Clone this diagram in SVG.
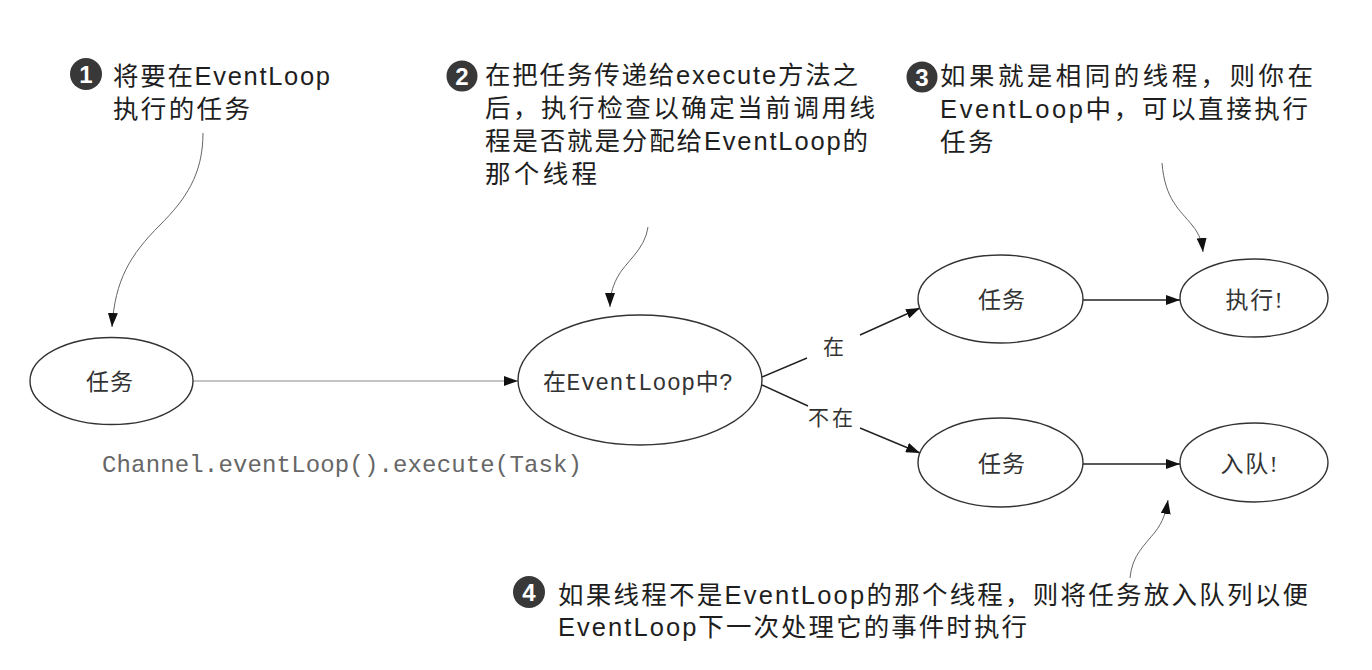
<svg xmlns="http://www.w3.org/2000/svg" width="1372" height="670" viewBox="0 0 1372 670">
<style>
.bg{fill:#ffffff}
.node{fill:#ffffff;stroke:#333333;stroke-width:1.4}
.lbl{font-family:"Liberation Serif","Noto Sans CJK SC",serif;font-size:23px;fill:#333333;text-anchor:middle}
.mono{font-family:"Liberation Mono","Noto Sans CJK SC",monospace}
.edge{fill:none;stroke:#222222;stroke-width:1.4}
.main{fill:none;stroke:#8a8a8a;stroke-width:1.2}
.note{fill:none;stroke:#666666;stroke-width:1}
.elbl{font-family:"Liberation Serif","Noto Sans CJK SC",serif;font-size:21px;fill:#333333}
.ann{font-family:"Liberation Sans","Noto Sans CJK SC",sans-serif;font-size:25.5px;fill:#1e1e1e}
.num{fill:#383838}
.numt{font-family:"Liberation Sans","Noto Sans CJK SC",sans-serif;font-size:24px;font-weight:bold;fill:#ffffff;text-anchor:middle}
.code{font-family:"Liberation Mono",monospace;font-size:24px;fill:#666666}
</style>
<defs>
<marker id="arr" viewBox="0 0 14 10" refX="14" refY="5" markerWidth="14" markerHeight="10" markerUnits="userSpaceOnUse" orient="auto">
<path d="M0,0 L14,5 L0,10 z" fill="#111111"/>
</marker>
</defs>
<rect class="bg" x="0" y="0" width="1372" height="670"/>

<g id="connectors">
<path class="main" d="M193,381 L518,381" marker-end="url(#arr)"/>
<path class="edge" d="M762,377 L807,358"/>
<path class="edge" d="M860,335 L920,308" marker-end="url(#arr)"/>
<path class="edge" d="M762,385 L808,406"/>
<path class="edge" d="M860,428 L920,453" marker-end="url(#arr)"/>
<path class="edge" d="M1083,300 L1180,300" marker-end="url(#arr)"/>
<path class="edge" d="M1083,464 L1180,464" marker-end="url(#arr)"/>
<text class="elbl" x="823" y="354">在</text>
<text class="elbl" x="808" y="425" letter-spacing="3">不在</text>
<path class="note" d="M203,133 C203,175 185,200 160,225 C130,255 115,280 112,327" marker-end="url(#arr)"/>
<path class="note" d="M648,227 C645,250 625,262 617,278 C612,288 610,296 610,307" marker-end="url(#arr)"/>
<path class="note" d="M1162,163 C1165,200 1180,210 1192,225 C1200,235 1202,242 1203,252" marker-end="url(#arr)"/>
<path class="note" d="M1130,578 C1132,555 1145,545 1155,532 C1163,522 1166,512 1168,500" marker-end="url(#arr)"/>
</g>

<g id="node-task">
<ellipse class="node" cx="111.5" cy="381" rx="81.5" ry="43.5"/>
<text class="lbl" x="110" y="390" letter-spacing="1">任务</text>
</g>

<g id="code-label">
<text class="code" x="102" y="472" textLength="480" lengthAdjust="spacing">Channel.eventLoop().execute(Task)</text>
</g>

<g id="node-check">
<ellipse class="node" cx="640" cy="380" rx="122" ry="65"/>
<text class="lbl mono" x="638" y="390" font-size="22" textLength="190" lengthAdjust="spacing">在EventLoop中?</text>
</g>

<g id="node-task-yes">
<ellipse class="node" cx="1000.5" cy="299" rx="82.5" ry="44"/>
<text class="lbl" x="1002" y="308" letter-spacing="1">任务</text>
</g>

<g id="node-execute">
<ellipse class="node" cx="1254" cy="298" rx="74" ry="39"/>
<text class="lbl" x="1254" y="308" textLength="57" lengthAdjust="spacing">执行!</text>
</g>

<g id="node-task-no">
<ellipse class="node" cx="1000.5" cy="462.5" rx="82.5" ry="44.5"/>
<text class="lbl" x="1002" y="472" letter-spacing="1">任务</text>
</g>

<g id="node-enqueue">
<ellipse class="node" cx="1254" cy="462.5" rx="74" ry="39.5"/>
<text class="lbl" x="1249" y="472" textLength="57" lengthAdjust="spacing">入队!</text>
</g>

<g id="note-1">
<circle class="num" cx="86" cy="74" r="16"/>
<text class="numt" x="86" y="82.5">1</text>
<text class="ann" x="113" y="85" textLength="217" lengthAdjust="spacing">将要在EventLoop</text>
<text class="ann" x="113" y="118" textLength="137" lengthAdjust="spacing">执行的任务</text>
</g>

<g id="note-2">
<circle class="num" cx="462" cy="76" r="15.5"/>
<text class="numt" x="462" y="84.5">2</text>
<text class="ann" x="485" y="84" textLength="373" lengthAdjust="spacing">在把任务传递给execute方法之</text>
<text class="ann" x="485" y="117" textLength="390" lengthAdjust="spacing">后，执行检查以确定当前调用线</text>
<text class="ann" x="485" y="150" textLength="383" lengthAdjust="spacing">程是否就是分配给EventLoop的</text>
<text class="ann" x="485" y="183" textLength="112" lengthAdjust="spacing">那个线程</text>
</g>

<g id="note-3">
<circle class="num" cx="922" cy="77" r="15.5"/>
<text class="numt" x="922" y="85.5">3</text>
<text class="ann" x="940" y="85" textLength="373" lengthAdjust="spacing">如果就是相同的线程，则你在</text>
<text class="ann" x="940" y="118" textLength="368" lengthAdjust="spacing">EventLoop中，可以直接执行</text>
<text class="ann" x="940" y="151" letter-spacing="2.5">任务</text>
</g>

<g id="note-4">
<circle class="num" cx="529" cy="592" r="16"/>
<text class="numt" x="529" y="600.5">4</text>
<text class="ann" x="558" y="604" textLength="750" lengthAdjust="spacing">如果线程不是EventLoop的那个线程，则将任务放入队列以便</text>
<text class="ann" x="558" y="636" textLength="469" lengthAdjust="spacing">EventLoop下一次处理它的事件时执行</text>
</g>
</svg>
